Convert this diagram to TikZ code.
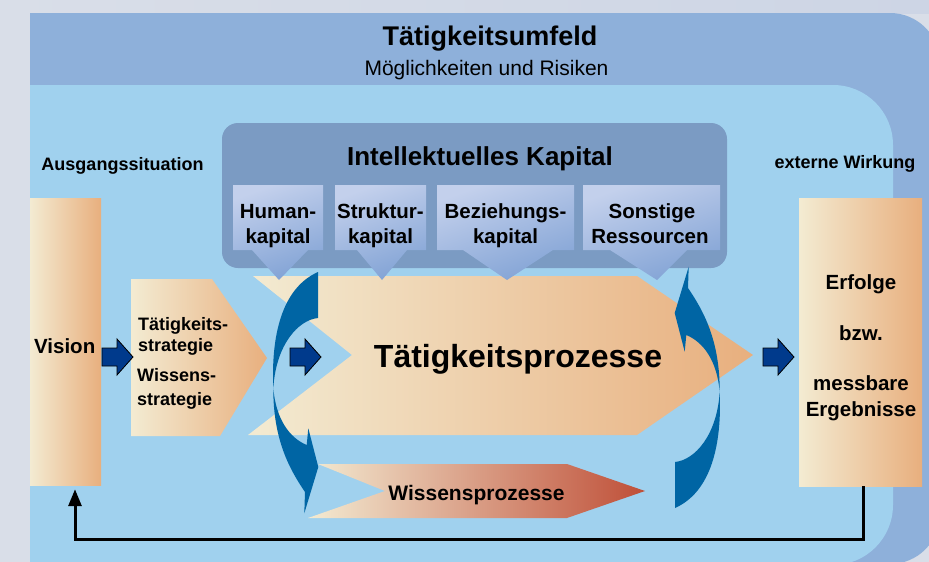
\documentclass[tikz,border=0pt]{standalone}
\usepackage{fontspec}
\setmainfont{Liberation Sans}
\usetikzlibrary{arrows.meta,calc}
\definecolor{outerblue}{HTML}{8EB0DA}
\definecolor{innerblue}{HTML}{A0D1EE}
\definecolor{ikblue}{HTML}{7B9BC3}
\definecolor{cream}{HTML}{F3EBD2}
\definecolor{peach}{HTML}{E8AF7E}
\definecolor{tan}{HTML}{DCAB8C}
\definecolor{rust}{HTML}{BF4F38}
\definecolor{curveblue}{HTML}{0065A4}
\definecolor{navy}{HTML}{003A8C}
\definecolor{greybg}{HTML}{D9DEE8}
\definecolor{greyright}{HTML}{CDD5E5}
\definecolor{topblue}{HTML}{86A7D5}
\definecolor{calloutL}{HTML}{C3D0EC}
\definecolor{calloutM}{HTML}{FBFCFF}
\definecolor{calloutR}{HTML}{82A3D5}
\newcommand{\fsz}[1]{\fontsize{#1}{#1}\selectfont}
\tikzset{
  txt/.style={inner sep=0pt, anchor=base, font=\bfseries\fsz{18}},
  boxtxt/.style={inner sep=0pt, anchor=base, font=\bfseries\fsz{20.5}},
  warmgrad/.style={left color=cream, right color=peach},
  callout/.style={left color=calloutL, middle color=calloutM, right color=calloutR, shading angle=20},
  pics/blockarrow/.style={code={
    \filldraw[fill=navy, draw=black, line width=0.8pt, line join=miter]
      (0,-9) -- (15,-9) -- (15,-18) -- (31,0) -- (15,18) -- (15,9) -- (0,9) -- cycle;}},
  feedback/.style={line width=3pt, -{Triangle[width=13pt,length=17pt]}}
}
\begin{document}
\begin{tikzpicture}[x=1pt,y=-1pt]
\useasboundingbox (0,0) rectangle (929,562);
\clip (0,0) rectangle (929,562);
% background
\fill[greybg] (0,0) rectangle (929,562);
\shade[left color=greybg, middle color=topblue, right color=greyright] (0,0) rectangle (929,13);
\fill[outerblue, rounded corners=50] (-100,13) rectangle (940,564);
\fill[innerblue, rounded corners=60] (-100,85) rectangle (893,565);
\fill[greybg] (0,13) rectangle (30,562);

\node[inner sep=0pt, anchor=base, font=\bfseries\fsz{27}] (umfeld) at (490,45) {Tätigkeitsumfeld};
\node[inner sep=0pt, anchor=base, font=\fsz{21}] (moegl) at (486.5,75) {Möglichkeiten und Risiken};

% intellectual capital box
\node[fill=ikblue, rounded corners=16, minimum width=505, minimum height=145, inner sep=0pt] (ik) at (474.5,195.5) {};
\node[inner sep=0pt, anchor=base, font=\bfseries\fsz{26}] (iktitle) at (480,165) {Intellektuelles Kapital};

% side boxes
\node[warmgrad, minimum width=71, minimum height=287, inner sep=0pt] (vis) at (65.5,341.5) {};
\node[warmgrad, minimum width=123, minimum height=288, inner sep=0pt] (erf) at (860.5,342) {};
\node[txt] (ausg) at (122.5,170) {Ausgangssituation};
\node[txt] (extw) at (845,168) {externe Wirkung};

% strategy pentagon
\shade[warmgrad] (131,279) -- (212,279) -- (267,358) -- (220,436) -- (131,436) -- cycle;

% main process arrow
\shade[left color=cream, right color=peach] (253,276) -- (637,276) -- (753,355) -- (637,435) -- (248,435) -- (352,355) -- cycle;

% callouts
\foreach \xa/\xb/\bl/\br/\tx in {233/323/252/308/279, 335/426/357/407/382, 437/574/463/553/507, 583/720/610/687/657}
  \shade[callout] (\xa,185) -- (\xb,185) -- (\xb,250) -- (\br,250) -- (\tx,280) -- (\bl,250) -- (\xa,250) -- cycle;

% knowledge process arrow
\shade[left color=cream, middle color=tan, right color=rust] (318,464) -- (567,464) -- (645,491) -- (567,518) -- (308,518) -- (385,491) -- cycle;

% curved arrows
\foreach \r in {0,180}
  \fill[curveblue, rotate around={\r:(496.5,390)}]
    (318,272) -- (318,318) .. controls (298,320) and (276,345) .. (273.3,388)
    .. controls (276,420) and (290,438) .. (306.7,445) -- (308.3,428.3) -- (318.3,467)
    -- (304.3,513.3) -- (305,492) .. controls (290,470) and (273,440) .. (273.3,388)
    .. controls (271,335) and (282,288) .. (318,272) -- cycle;

% block arrows
\pic (a1) at (102,357) {blockarrow};
\pic (a2) at (290,357) {blockarrow};
\pic (a3) at (763,357) {blockarrow};

% feedback
\draw[feedback] ($(erf.south)+(2.5,0)$) -- ++(0,53) -| ($(vis.south)+(9.5,4)$);

% texts
\node[txt, font=\bfseries\fsz{20.5}] (vistxt) at (64.7,353) {Vision};
\node[txt, anchor=base west] (s1) at (138,330) {Tätigkeits-};
\node[txt, anchor=base west] (s2) at (138,351.7) {strategie};
\node[txt, anchor=base west] (s3) at (137,381.7) {Wissens-};
\node[txt, anchor=base west] (s4) at (137,405) {strategie};

\node[boxtxt] (h1) at (278,218.3) {Human-};
\node[boxtxt] (h2) at (278,243.3) {kapital};
\node[boxtxt] (k1) at (380.5,218.3) {Struktur-};
\node[boxtxt] (k2) at (380.5,243.3) {kapital};
\node[boxtxt] (b1) at (505.5,218.3) {Beziehungs-};
\node[boxtxt] (b2) at (505.5,243.3) {kapital};
\node[boxtxt] (o1) at (652,218.3) {Sonstige};
\node[boxtxt] (o2) at (650,243.3) {Ressourcen};

\node[inner sep=0pt, anchor=base, font=\bfseries\fsz{32}] (tp) at (518,367) {Tätigkeitsprozesse};
\node[inner sep=0pt, anchor=base, font=\bfseries\fsz{21}] (wp) at (476.5,500) {Wissensprozesse};

\node[txt, font=\bfseries\fsz{20.5}] (e1) at (861,289) {Erfolge};
\node[txt, font=\bfseries\fsz{20.5}] (e2) at (861,340) {bzw.};
\node[txt, font=\bfseries\fsz{20.5}] (e3) at (861,390.7) {messbare};
\node[txt, font=\bfseries\fsz{20.5}] (e4) at (861,416.7) {Ergebnisse};
\end{tikzpicture}
\end{document}
